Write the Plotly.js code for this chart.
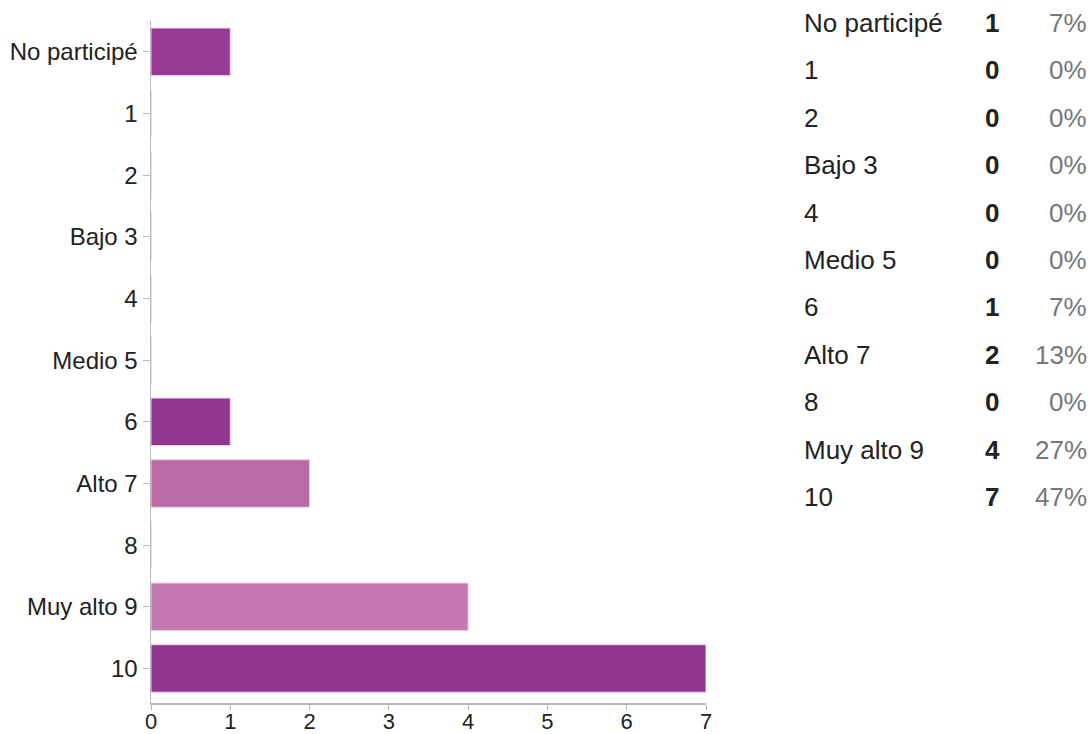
<!DOCTYPE html>
<html>
<head>
<meta charset="utf-8">
<script src="https://cdn.plot.ly/plotly-3.0.1.min.js"></script>
<style>html,body{margin:0;padding:0;background:#fff;}#chart{width:1090px;height:734px;}</style>
</head>
<body>
<div id="chart"></div>
<script>
const categories = ["No participé", "1", "2", "Bajo 3", "4", "Medio 5", "6", "Alto 7", "8", "Muy alto 9", "10"];
const counts = [1, 0, 0, 0, 0, 0, 1, 2, 0, 4, 7];
const percents = ["7%", "0%", "0%", "0%", "0%", "0%", "7%", "13%", "0%", "27%", "47%"];
const xTicks = [0, 1, 2, 3, 4, 5, 6, 7];

const barColors = ["#993a96", "#993a96", "#993a96", "#993a96", "#993a96", "#993a96",
                   "#93368f", "#bb6aa8", "#c278b2", "#c479b1", "#913591"];

const W = 1090, H = 734;
const m = {l: 151, r: 384, t: 21, b: 31};
const pw = W - m.l - m.r, ph = H - m.t - m.b;
const px2paperX = px => (px - m.l) / pw;
const px2paperY = py => 1 - (py - m.t) / ph;
const FONT = 'Liberation Sans, Arial, sans-serif';

const annotations = [];
const rowTop = 23, rowStep = 47.4;
categories.forEach((c, i) => {
  const yy = px2paperY(rowTop + i * rowStep);
  annotations.push({xref: 'paper', yref: 'paper', x: px2paperX(802), y: yy, xanchor: 'left', yanchor: 'middle',
    text: c, showarrow: false, font: {family: FONT, size: 26, color: '#222'}});
  annotations.push({xref: 'paper', yref: 'paper', x: px2paperX(992), y: yy, xanchor: 'center', yanchor: 'middle',
    text: '<b>' + counts[i] + '</b>', showarrow: false, font: {family: FONT, size: 26, color: '#222'}});
  annotations.push({xref: 'paper', yref: 'paper', x: px2paperX(1089), y: yy, xanchor: 'right', yanchor: 'middle',
    text: percents[i], showarrow: false, font: {family: FONT, size: 26, color: '#777'}});
});

const trace = {
  type: 'bar', orientation: 'h',
  x: counts, y: categories,
  width: 0.77,
  marker: {color: barColors, line: {color: '#ecd0e6', width: 1}},
  hoverinfo: 'x+y'
};

const layout = {
  width: W, height: H,
  margin: m,
  paper_bgcolor: '#fff', plot_bgcolor: '#fff',
  showlegend: false,
  font: {family: FONT, size: 23, color: '#222'},
  xaxis: {range: [0, 7], tickvals: xTicks, ticktext: xTicks.map(String), showgrid: false, zeroline: false,
          showline: true, linecolor: '#b8b8b8', linewidth: 1.5, ticks: 'outside', ticklen: 5, tickcolor: '#b8b8b8',
          ticklabelstandoff: -7,
          tickfont: {family: FONT, size: 22, color: '#222'}, fixedrange: true},
  yaxis: {type: 'category', categoryorder: 'array', categoryarray: categories, range: [10.56, -0.5],
          showgrid: false, zeroline: false, showline: true, linecolor: '#b8b8b8', linewidth: 1.5,
          ticks: 'outside', ticklen: 7, tickcolor: '#b8b8b8', tickfont: {family: FONT, size: 24, color: '#222'}, fixedrange: true},
  annotations: annotations
};

Plotly.newPlot('chart', [trace], layout, {displayModeBar: false, staticPlot: true});
</script>
</body>
</html>
